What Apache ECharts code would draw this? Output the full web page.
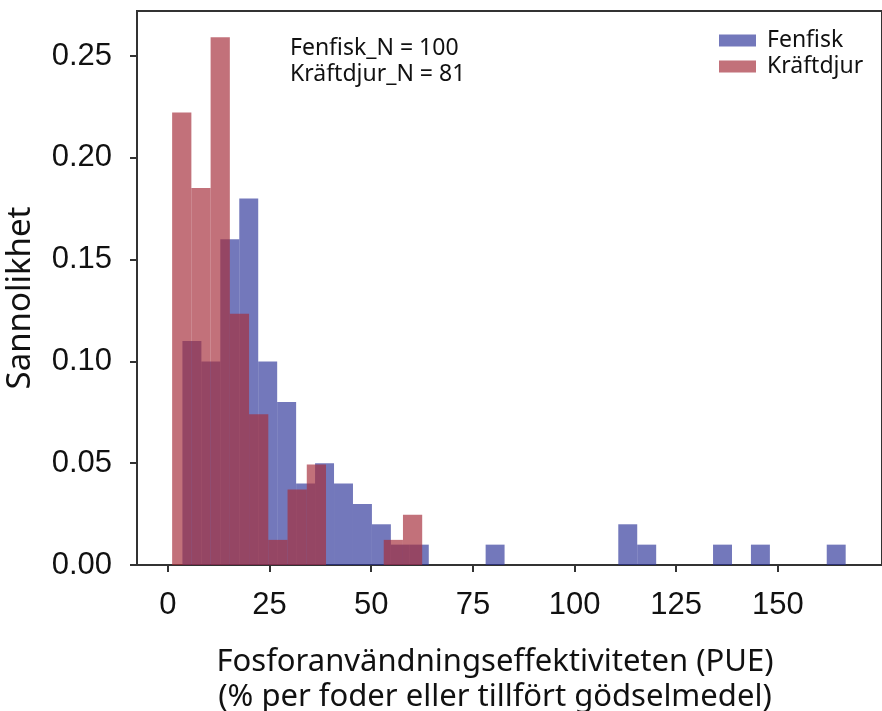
<!DOCTYPE html>
<html>
<head>
<meta charset="utf-8">
<script src="https://cdn.jsdelivr.net/npm/echarts@6/dist/echarts.min.js"></script>
<style>
  html, body { margin: 0; padding: 0; background: #fff; }
  #main { width: 882px; height: 711px; }
</style>
</head>
<body>
<div id="main"></div>
<script>
// histogram counts (probability = count / N)
var fenfiskN = 100;
var fenfiskStart = 3.57;   // left edge of first bin
var fenfiskWidth = 4.66;   // bin width
var fenfiskCounts = [11, 10, 16, 18, 10, 8, 4, 5, 4, 3, 2, 1, 1, 0, 0, 0, 1, 0,
    0, 0, 0, 0, 0, 2, 1, 0, 0, 0, 1, 0, 1, 0, 0, 0, 1];

var kraftN = 81;
var kraftStart = 1.04;
var kraftWidth = 4.73;
var kraftCounts = [18, 15, 21, 10, 6, 1, 3, 4, 0, 0, 0, 1, 2];

var xTicks = [0, 25, 50, 75, 100, 125, 150];

function toBins(start, width, counts, n) {
    var out = [];
    for (var i = 0; i < counts.length; i++) {
        if (!counts[i]) continue;
        out.push([start + i * width, start + (i + 1) * width, counts[i] / n]);
    }
    return out;
}

var blueFill = 'rgba(40,48,150,0.65)';
var redFill = 'rgba(165,45,59,0.68)';

function histRender(fill) {
    return function (params, api) {
        var p0 = api.coord([api.value(0), api.value(2)]);
        var p1 = api.coord([api.value(1), 0]);
        return {
            type: 'rect',
            shape: { x: p0[0], y: p0[1], width: p1[0] - p0[0], height: p1[1] - p0[1] },
            style: { fill: fill }
        };
    };
}

var myChart = echarts.init(document.getElementById('main'));
var tickFont = 'Liberation Sans';
var textFont = 'Noto Sans';

var option = {
    animation: false,
    grid: {
        left: 137,
        right: -10,
        top: 11,
        bottom: 146,
        show: true,
        borderColor: '#333',
        borderWidth: 2
    },
    legend: {
        orient: 'vertical',
        left: 714,
        top: 24,
        itemWidth: 37,
        itemHeight: 12,
        itemGap: 3,
        icon: 'rect',
        textStyle: { fontFamily: textFont, fontSize: 23, color: '#111', padding: [0, 0, 0, 6] },
        data: [
            { name: 'Fenfisk', itemStyle: { color: blueFill } },
            { name: 'Kräftdjur', itemStyle: { color: redFill } }
        ]
    },
    xAxis: {
        type: 'value',
        min: -7.6,
        max: 175.6,
        splitLine: { show: false },
        axisLine: { show: true, onZero: false, lineStyle: { color: '#333', width: 2 } },
        axisTick: { show: true, length: 7, customValues: xTicks, lineStyle: { color: '#333', width: 2 } },
        axisLabel: {
            customValues: xTicks,
            margin: 25,
            fontFamily: tickFont,
            fontSize: 31,
            color: '#111'
        }
    },
    yAxis: {
        type: 'value',
        min: 0,
        max: 0.2721,
        interval: 0.05,
        splitLine: { show: false },
        axisLine: { show: true, onZero: false, lineStyle: { color: '#333', width: 2 } },
        axisTick: { show: true, length: 7, lineStyle: { color: '#333', width: 2 } },
        axisLabel: {
            showMaxLabel: false,
            margin: 25,
            fontFamily: tickFont,
            fontSize: 31,
            color: '#111',
            formatter: function (v) { return v.toFixed(2); }
        }
    },
    graphic: [
        {
            type: 'text', x: 21, y: 298, rotation: Math.PI / 2,
            style: { text: 'Sannolikhet', align: 'center', verticalAlign: 'middle',
                font: '33px "Noto Sans"', fill: '#111' }
        },
        {
            type: 'text', x: 495, y: 645,
            style: { text: 'Fosforanvändningseffektiviteten (PUE)\n(% per foder eller tillfört gödselmedel)',
                align: 'center', verticalAlign: 'top', lineHeight: 35,
                font: '31px "Noto Sans"', fill: '#111' }
        },
        {
            type: 'text', x: 290, y: 35,
            style: { text: 'Fenfisk_N = 100\nKräftdjur_N = 81', align: 'left', verticalAlign: 'top',
                lineHeight: 26, font: '23px "Noto Sans"', fill: '#111' }
        }
    ],
    series: [
        {
            name: 'Fenfisk',
            type: 'custom',
            renderItem: histRender(blueFill),
            itemStyle: { color: blueFill },
            encode: { x: [0, 1], y: 2 },
            data: toBins(fenfiskStart, fenfiskWidth, fenfiskCounts, fenfiskN)
        },
        {
            name: 'Kräftdjur',
            type: 'custom',
            renderItem: histRender(redFill),
            itemStyle: { color: redFill },
            encode: { x: [0, 1], y: 2 },
            data: toBins(kraftStart, kraftWidth, kraftCounts, kraftN)
        }
    ]
};

myChart.setOption(option);
</script>
</body>
</html>
